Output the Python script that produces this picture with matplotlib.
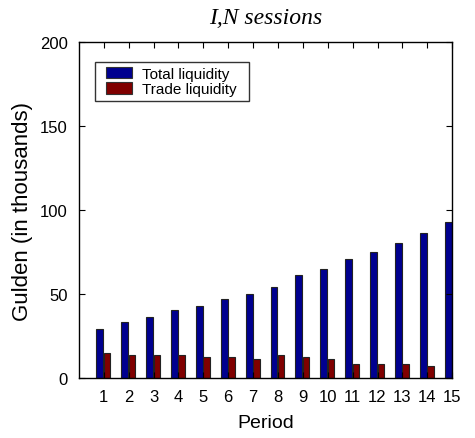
import matplotlib
matplotlib.use("Agg")
import matplotlib.pyplot as plt
import matplotlib.patches as mpatches
from matplotlib.legend_handler import HandlerPatch
import numpy as np

periods = list(range(1, 16))
total_liquidity = [29.4, 33.5, 36.3, 40.4, 43.3, 47.5, 50.2, 54.3, 61.4, 65.3, 71.2, 75.1, 80.6, 86.3, 93.1]
trade_liquidity = [15.3, 14.1, 14.1, 14.1, 12.7, 12.7, 11.4, 14.1, 12.7, 11.4, 8.4, 8.4, 8.4, 7.3, 3.1]
series_labels = ["Total liquidity", "Trade liquidity"]
series_colors = ["#00008F", "#800000"]
yticks = [0, 50, 100, 150, 200]

fig = plt.figure(figsize=(4.75, 4.39), dpi=100)
ax = fig.add_axes([0.166, 0.136, 0.786, 0.765])

x = np.array(periods, dtype=float)
ax.bar(x - 0.16, total_liquidity, width=0.28, color=series_colors[0], edgecolor="#222222",
       linewidth=0.8)
ax.bar(x + 0.13, trade_liquidity, width=0.26, color=series_colors[1], edgecolor="#222222",
       linewidth=0.8)

ax.set_xlim(0, 15)
ax.set_ylim(0, 200)
ax.set_xticks(periods)
ax.set_yticks(yticks)
ax.tick_params(direction="in", top=True, right=True, length=4, width=0.8,
               labelsize=12, pad=8)
for sp in ax.spines.values():
    sp.set_linewidth(1.0)

ax.set_xlabel("Period", fontsize=14, fontfamily="Liberation Sans", labelpad=7)
ax.set_ylabel("Gulden (in thousands)", fontsize=16, fontfamily="Liberation Sans", labelpad=5)
for lbl in ax.get_xticklabels() + ax.get_yticklabels():
    lbl.set_fontfamily("Liberation Sans")

ax.set_title("I,N sessions", fontsize=17, fontfamily="Liberation Serif",
             fontstyle="italic", pad=14)

handles = [mpatches.Patch(facecolor=c, edgecolor="#333333", linewidth=0.8, label=l)
           for c, l in zip(series_colors, series_labels)]
leg = ax.legend(handles=handles, loc="upper left", bbox_to_anchor=(0.043, 0.941, 0.413, 0),
                mode="expand", handler_map={mpatches.Patch: HandlerPatch(xpad=0.4)},
                frameon=True, fancybox=False, borderpad=0.3, handlelength=2.16,
                handleheight=0.75, handletextpad=0.65, labelspacing=0.1,
                borderaxespad=0, prop={"family": "Liberation Sans", "size": 11})
leg.get_frame().set_edgecolor("black")
leg.get_frame().set_linewidth(1.0)

fig.savefig("out.png", dpi=100)
